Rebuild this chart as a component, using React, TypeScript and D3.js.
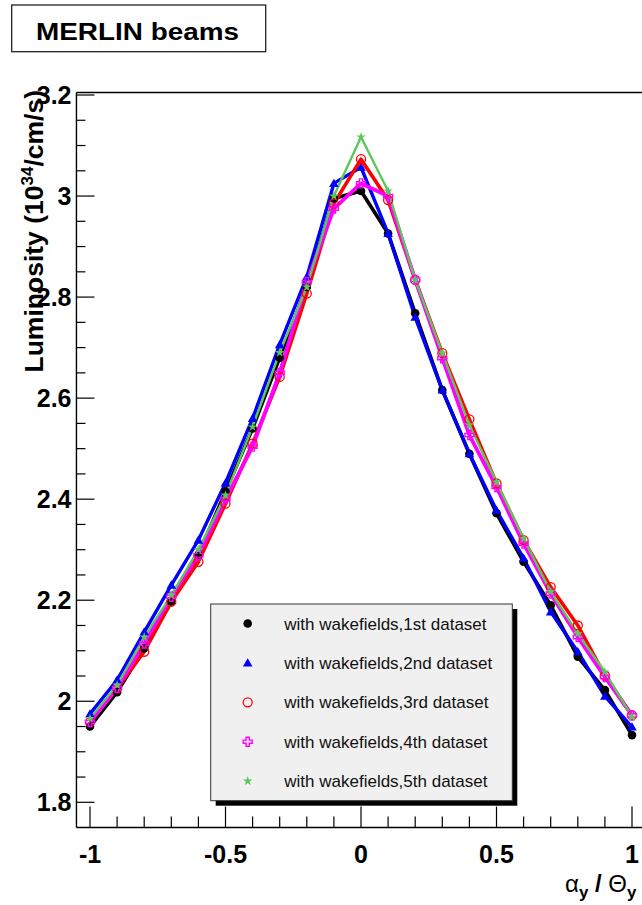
import React from "react";
import * as d3 from "d3";

const xValues = [-1, -0.9, -0.8, -0.7, -0.6, -0.5, -0.4, -0.3, -0.2, -0.1, 0, 0.1, 0.2, 0.3, 0.4, 0.5, 0.6, 0.7, 0.8, 0.9, 1];

const set1 = [1.95, 2.018, 2.105, 2.197, 2.29, 2.415, 2.54, 2.68, 2.82, 2.995, 3.01, 2.926, 2.768, 2.616, 2.49, 2.372, 2.276, 2.19, 2.088, 2.022, 1.933];
const set2 = [1.975, 2.042, 2.137, 2.23, 2.319, 2.432, 2.56, 2.706, 2.84, 3.025, 3.057, 2.926, 2.76, 2.616, 2.49, 2.378, 2.283, 2.177, 2.098, 2.01, 1.949];
const set3 = [1.959, 2.026, 2.098, 2.197, 2.276, 2.391, 2.51, 2.642, 2.807, 2.985, 3.073, 2.992, 2.834, 2.689, 2.558, 2.431, 2.319, 2.226, 2.15, 2.051, 1.972];
const set4 = [1.959, 2.026, 2.114, 2.207, 2.289, 2.4, 2.504, 2.65, 2.83, 2.975, 3.025, 3.0, 2.834, 2.679, 2.527, 2.424, 2.312, 2.213, 2.127, 2.048, 1.972];
const set5 = [1.966, 2.032, 2.127, 2.21, 2.3, 2.408, 2.543, 2.69, 2.82, 3.0, 3.117, 3.01, 2.834, 2.689, 2.547, 2.434, 2.322, 2.217, 2.134, 2.058, 1.969];

const seriesNames = [
  "with wakefields,1st dataset",
  "with wakefields,2nd dataset",
  "with wakefields,3rd dataset",
  "with wakefields,4th dataset",
  "with wakefields,5th dataset",
];
const seriesColors = ["#000000", "#0000ff", "#ff0000", "#ff00ff", "#5ac85a"];
const seriesMarkers = ["dot", "triangle", "circle", "cross", "star"];
const seriesWidths = [3.6, 3.4, 3.6, 3.8, 2.4];

const xMajorTicks = [-1, -0.5, 0, 0.5, 1];
const xTickLabels = ["-1", "-0.5", "0", "0.5", "1"];
const yMajorTicks = [1.8, 2, 2.2, 2.4, 2.6, 2.8, 3, 3.2];
const yTickLabels = ["1.8", "2", "2.2", "2.4", "2.6", "2.8", "3", "3.2"];

const FONT = "'Liberation Sans', Arial, Helvetica, sans-serif";

function Marker({ kind, cx, cy, color }: { kind: string; cx: number; cy: number; color: string }) {
  if (kind === "dot") return <circle cx={cx} cy={cy} r={4.3} fill={color} />;
  if (kind === "triangle") {
    const p = d3.symbol().type(d3.symbolTriangle).size(40)();
    return <path d={p || ""} transform={`translate(${cx},${cy + 0.8})`} fill={color} />;
  }
  if (kind === "circle") return <circle cx={cx} cy={cy} r={4.5} fill="none" stroke={color} strokeWidth={1.3} />;
  if (kind === "cross") {
    const a = 4.5, b = 1.6;
    const d = `M${-b},${-a}H${b}V${-b}H${a}V${b}H${b}V${a}H${-b}V${b}H${-a}V${-b}H${-b}Z`;
    return <path d={d} transform={`translate(${cx},${cy})`} fill="none" stroke={color} strokeWidth={1.4} />;
  }
  const p = d3.symbol().type(d3.symbolStar).size(28)();
  return <path d={p || ""} transform={`translate(${cx},${cy})`} fill={color} />;
}

export default function App() {
  const x = d3.scaleLinear().domain([-1, 1]).range([90, 632]);
  const y = d3.scaleLinear().domain([1.8, 3.2]).range([802.3, 95]);
  const frameL = x(-1.05);
  const frameR = x(1.05);
  const frameT = y(3.205);
  const frameB = y(1.75);

  const data = [set1, set2, set3, set4, set5];
  const line = d3
    .line<number>()
    .x((_, i) => x(xValues[i]))
    .y((d) => y(d));

  const xMinor = d3.range(-10, 11).map((i) => i / 10).filter((v) => Math.abs(v * 2 - Math.round(v * 2)) > 1e-6);
  const yMinor = d3.range(36, 65).map((i) => i / 20).filter((v) => Math.abs(v * 5 - Math.round(v * 5)) > 1e-6);

  const legX = 210.7, legY = 604, legW = 301.6, legH = 196.7;
  const legRow0 = 623.5, legStep = 39.4;

  return (
    <svg width={642} height={905} style={{ position: "absolute", left: 0, top: 0, background: "#fff" }} fontFamily={FONT}>
      <rect x={0} y={0} width={642} height={905} fill="#fff" />
      {/* title box */}
      <rect x={11.7} y={5} width={254} height={46.7} fill="#fff" stroke="#222" strokeWidth={1.3} />
      <text x={36} y={39.5} fontSize={23} fontWeight="bold" textLength={203} lengthAdjust="spacingAndGlyphs" fill="#000">
        MERLIN beams
      </text>

      {/* frame */}
      <line x1={frameL} x2={frameR} y1={frameT} y2={frameT} stroke="#000" strokeWidth={1.4} />
      <line x1={frameL} x2={frameL} y1={frameT} y2={frameB} stroke="#000" strokeWidth={1.4} />
      <line x1={frameL} x2={frameR} y1={frameB} y2={frameB} stroke="#000" strokeWidth={1.4} />

      {/* y ticks */}
      {yMajorTicks.map((v, i) => (
        <g key={"ym" + i}>
          <line x1={frameL} x2={frameL + 18} y1={y(v)} y2={y(v)} stroke="#000" strokeWidth={1.2} />
          <text x={71.5} y={y(v) + 9} fontSize={25} fontWeight="bold" textAnchor="end">
            {yTickLabels[i]}
          </text>
        </g>
      ))}
      {yMinor.map((v, i) => (
        <line key={"yn" + i} x1={frameL} x2={frameL + 9} y1={y(v)} y2={y(v)} stroke="#000" strokeWidth={1.2} />
      ))}

      {/* x ticks */}
      {xMajorTicks.map((v, i) => (
        <g key={"xm" + i}>
          <line x1={x(v)} x2={x(v)} y1={frameB} y2={frameB - 21} stroke="#000" strokeWidth={1.2} />
          <text x={x(v)} y={863} fontSize={25} fontWeight="bold" textAnchor="middle">
            {xTickLabels[i]}
          </text>
        </g>
      ))}
      {xMinor.map((v, i) => (
        <line key={"xn" + i} x1={x(v)} x2={x(v)} y1={frameB} y2={frameB - 11} stroke="#000" strokeWidth={1.2} />
      ))}

      {/* axis titles */}
      <text transform="translate(43,90) rotate(-90)" fontSize={26.5} fontWeight="bold" textAnchor="end">
        Luminosity (10
        <tspan fontSize={17} dy={-10}>34</tspan>
        <tspan dy={10}>/cm/s)</tspan>
      </text>
      <text x={565} y={892} fontSize={24} fill="#000">
        α<tspan fontSize={17} fontWeight="bold" dy={6}>y</tspan>
        <tspan dy={-6} fontWeight="bold"> / </tspan>Θ<tspan fontSize={17} fontWeight="bold" dy={6}>y</tspan>
      </text>

      {/* series lines */}
      {data.map((s, k) => (
        <path key={"l" + k} d={line(s) || ""} fill="none" stroke={seriesColors[k]} strokeWidth={seriesWidths[k]} strokeLinejoin="round" />
      ))}
      {data.map((s, k) => (
        <g key={"m" + k}>
          {s.map((v, i) => (
            <Marker key={i} kind={seriesMarkers[k]} cx={x(xValues[i])} cy={y(v)} color={seriesColors[k]} />
          ))}
        </g>
      ))}

      {/* legend */}
      <rect x={legX + 5} y={legY + 5} width={legW} height={legH} fill="#000" />
      <rect x={legX} y={legY} width={legW} height={legH} fill="#f0f0f0" stroke="#333" strokeWidth={1} />
      {seriesNames.map((n, k) => (
        <g key={"lg" + k}>
          <Marker kind={seriesMarkers[k]} cx={247.7} cy={legRow0 + k * legStep} color={seriesColors[k]} />
          <text x={284.3} y={legRow0 + k * legStep + 6} fontSize={17} fill="#111">
            {n}
          </text>
        </g>
      ))}
    </svg>
  );
}
